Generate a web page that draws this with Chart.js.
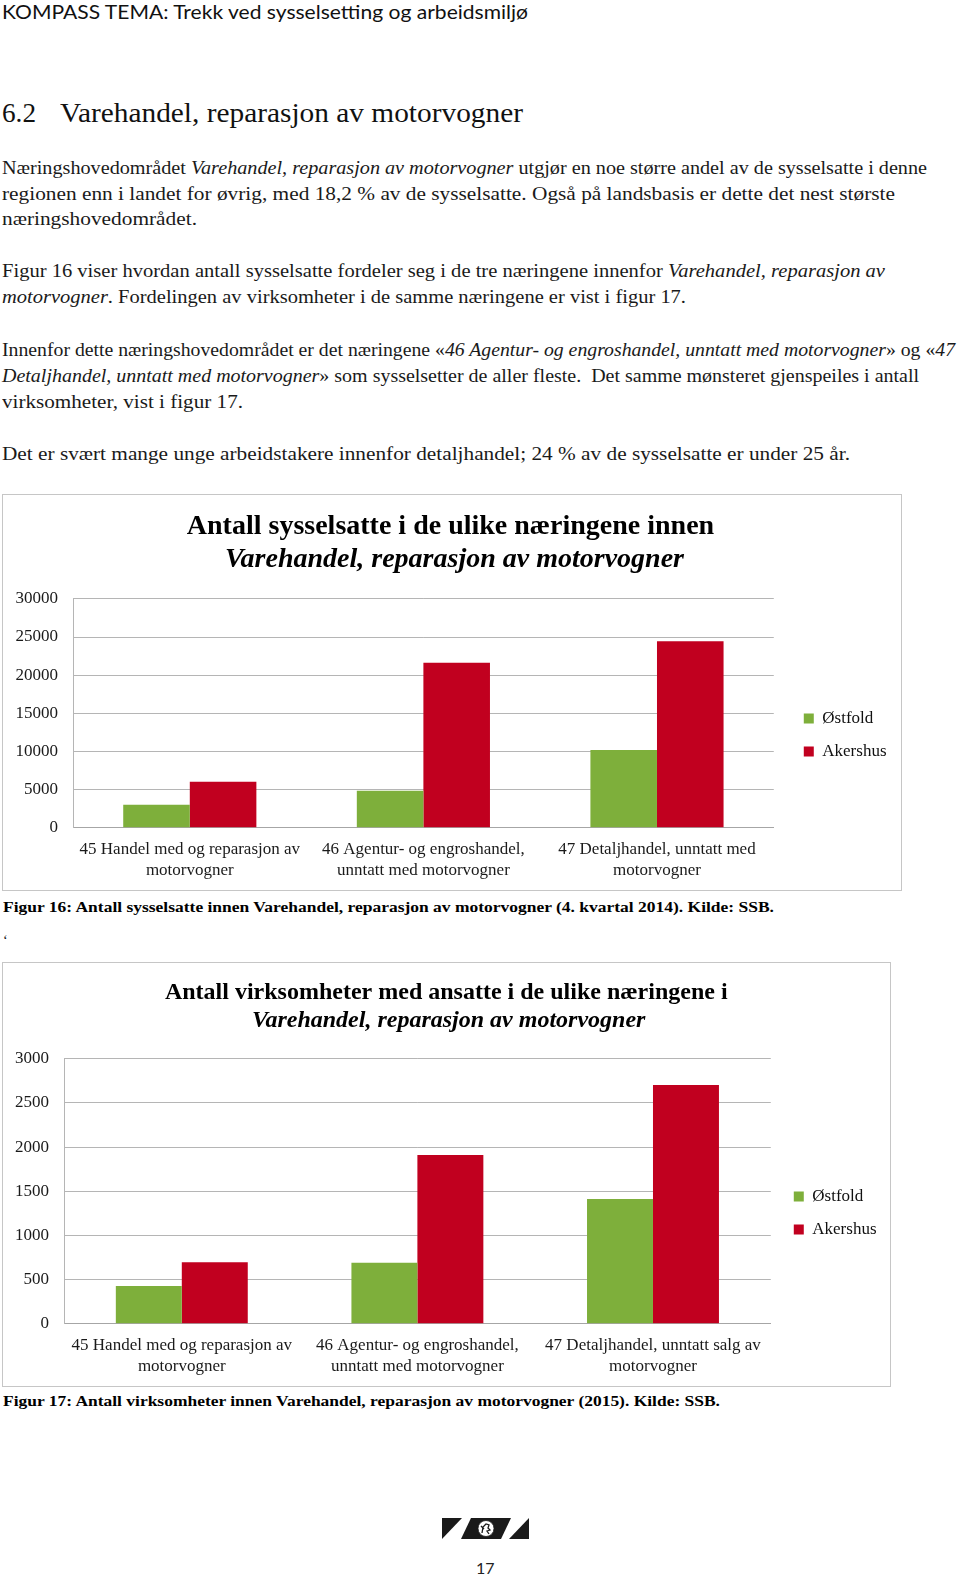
<!DOCTYPE html>
<html lang="no">
<head>
<meta charset="utf-8">
<script src="https://cdn.jsdelivr.net/npm/chart.js@4.4.1/dist/chart.umd.min.js"></script>
<style>
  html, body { margin:0; padding:0; background:#fff; }
  body { width:960px; height:1577px; position:relative; overflow:hidden; font-family:"Liberation Serif", serif; color:#111; }
  .ln { position:absolute; left:2px; white-space:nowrap; line-height:1.2; transform-origin:0 0; }
  .body { font-size:19px; color:#1a1a1a; }
  .sans { font-family:Lato, "Open Sans", sans-serif; }
  .cap { font-size:15.5px; font-weight:bold; color:#000; }
  .frame { position:absolute; border:1px solid #c6c6c6; box-sizing:border-box; }
  canvas { position:absolute; }
</style>
</head>
<body>
<script>
// ---------- DATA ----------
const categories1 = [["45 Handel med og reparasjon av","motorvogner"],["46 Agentur- og engroshandel,","unntatt med motorvogner"],["47 Detaljhandel, unntatt med","motorvogner"]];
const ostfold1 = [3040, 4850, 10200];
const akershus1 = [6050, 21620, 24450];
const yMax1 = 30000, yStep1 = 5000;

const categories2 = [["45 Handel med og reparasjon av","motorvogner"],["46 Agentur- og engroshandel,","unntatt med motorvogner"],["47 Detaljhandel, unntatt salg av","motorvogner"]];
const ostfold2 = [428, 690, 1414];
const akershus2 = [698, 1910, 2704];
const yMax2 = 3000, yStep2 = 500;

const seriesNames = ["Østfold", "Akershus"];
const title1 = ["Antall sysselsatte i de ulike næringene innen", "Varehandel, reparasjon av motorvogner"];
const title2 = ["Antall virksomheter med ansatte i de ulike næringene i", "Varehandel, reparasjon av motorvogner"];
</script>

<div class="ln sans" data-w="526" style="top:1px;font-size:19px;color:#111;">KOMPASS TEMA: Trekk ved sysselsetting og arbeidsmiljø</div>

<div class="ln" data-w="34" style="top:97px;font-size:27px;">6.2</div>
<div class="ln" data-w="463" style="left:60px;top:97px;font-size:27px;">Varehandel, reparasjon av motorvogner</div>

<div class="ln body" data-w="925" style="top:157px;">Næringshovedområdet <i>Varehandel, reparasjon av motorvogner</i> utgjør en noe større andel av de sysselsatte i denne</div>
<div class="ln body" data-w="893" style="top:183px;">regionen enn i landet for øvrig, med 18,2 % av de sysselsatte. Også på landsbasis er dette det nest største</div>
<div class="ln body" data-w="195" style="top:208px;">næringshovedområdet.</div>

<div class="ln body" data-w="883" style="top:260px;">Figur 16 viser hvordan antall sysselsatte fordeler seg i de tre næringene innenfor <i>Varehandel, reparasjon av</i></div>
<div class="ln body" data-w="684" style="top:286px;"><i>motorvogner</i>. Fordelingen av virksomheter i de samme næringene er vist i figur 17.</div>

<div class="ln body" data-w="953" style="top:339px;">Innenfor dette næringshovedområdet er det næringene «<i>46 Agentur- og engroshandel, unntatt med motorvogner</i>» og «<i>47</i></div>
<div class="ln body" data-w="917" style="top:365px;"><i>Detaljhandel, unntatt med motorvogner</i>» som sysselsetter de aller fleste.&nbsp; Det samme mønsteret gjenspeiles i antall</div>
<div class="ln body" data-w="241" style="top:391px;">virksomheter, vist i figur 17.</div>

<div class="ln body" data-w="848" style="top:443px;">Det er svært mange unge arbeidstakere innenfor detaljhandel; 24 % av de sysselsatte er under 25 år.</div>

<div class="frame" style="left:2px;top:494px;width:900px;height:397px;"></div>
<canvas id="c1" width="898" height="395" style="left:3px;top:495px;"></canvas>

<div class="ln cap" data-w="771" style="top:898px;left:3px;">Figur 16: Antall sysselsatte innen Varehandel, reparasjon av motorvogner (4. kvartal 2014). Kilde: SSB.</div>
<div class="ln" style="top:933px;left:3px;font-size:14px;">‘</div>

<div class="frame" style="left:2px;top:962px;width:889px;height:425px;"></div>
<canvas id="c2" width="887" height="423" style="left:3px;top:963px;"></canvas>

<div class="ln cap" data-w="717" style="top:1392px;left:3px;">Figur 17: Antall virksomheter innen Varehandel, reparasjon av motorvogner (2015). Kilde: SSB.</div>

<svg style="position:absolute;left:440px;top:1515px;" width="92" height="28" viewBox="0 0 92 28">
  <polygon points="2,3 22,3 2,24" fill="#1a1a1a"/>
  <polygon points="31,3 71,3 61,24 21,24" fill="#1a1a1a"/>
  <polygon points="89,3 89,24 69,24" fill="#1a1a1a"/>
  <circle cx="46" cy="13.5" r="8" fill="#fff" stroke="#1a1a1a" stroke-width="0.8"/>
  <path d="M42,18 L43,12 L46,9 L49,10 L48,13 L50,15 L47,16 L49,19 M44,14 L41,11" stroke="#1a1a1a" stroke-width="1.3" fill="none"/>
</svg>
<div class="ln sans" style="left:476px;top:1558px;font-size:16px;color:#222;">17</div>

<script>
// fit text lines to measured widths
document.querySelectorAll('.ln[data-w]').forEach(el => {
  const w = el.getBoundingClientRect().width;
  const t = parseFloat(el.dataset.w);
  if (w > 0) el.style.transform = 'scaleX(' + (t / w) + ')';
});

const GREEN = '#7eaf3b', RED = '#c1001f';
const FONT = '"Liberation Serif", serif';

// nudges legend and title blocks after layout
const boxShift = {
  id: 'boxShift',
  afterLayout(chart, args, opts) {
    const mv = (b, dx, dy) => { b.left += dx; b.right += dx; b.top += dy; b.bottom += dy; };
    if (chart.legend) mv(chart.legend, opts.ldx, opts.ldy);
    chart.boxes.forEach(b => {
      if (b === chart.legend || !b.options || b.options.ticks || typeof b.options.text === 'undefined') return;
      if (b === chart.titleBlock) mv(b, opts.tdx, 0); else mv(b, opts.sdx, 0);
    });
  }
};

function makeChart(id, cats, a, b, titles, yMax, yStep, cfg) {
  return new Chart(document.getElementById(id), {
    type: 'bar',
    data: {
      labels: cats,
      datasets: [
        { label: seriesNames[0], data: a, backgroundColor: GREEN, borderWidth: 0, categoryPercentage: cfg.cat, barPercentage: 1.0 },
        { label: seriesNames[1], data: b, backgroundColor: RED, borderWidth: 0, categoryPercentage: cfg.cat, barPercentage: 1.0 }
      ]
    },
    plugins: [boxShift],
    options: {
      responsive: false,
      devicePixelRatio: 1,
      animation: false,
      layout: { padding: { left: cfg.padL, right: cfg.padR, top: 0, bottom: cfg.padB } },
      plugins: {
        boxShift: { ldx: cfg.dx, ldy: cfg.dy, tdx: cfg.tdx, sdx: cfg.sdx },
        tooltip: { enabled: false },
        title: { display: true, text: titles[0], color: '#000', font: { family: FONT, size: cfg.tsize, weight: 'bold', lineHeight: cfg.tlh }, padding: { top: cfg.tTop, bottom: 1 } },
        subtitle: { display: true, text: titles[1], color: '#000', font: { family: FONT, size: cfg.tsize, weight: 'bold', style: 'italic', lineHeight: cfg.tlh }, padding: { top: 0, bottom: cfg.sBot } },
        legend: {
          position: 'right',
          labels: { boxWidth: 10, boxHeight: 10, padding: 16, color: '#111', font: { family: FONT, size: 17 } }
        }
      },
      scales: {
        x: {
          grid: { display: false, drawTicks: false },
          border: { display: true, color: '#a6a6a6', width: 1 },
          ticks: { color: '#1a1a1a', font: { family: FONT, size: 17, lineHeight: 1.24 }, padding: 11, maxRotation: 0, autoSkip: false },
          afterFit(scale) { scale.paddingLeft = 0; scale.paddingRight = 0; }
        },
        y: {
          min: 0, max: yMax,
          grid: { color: '#b5b5b5', lineWidth: 1, drawTicks: false },
          border: { display: true, color: '#b5b5b5', width: 1 },
          ticks: { stepSize: yStep, color: '#1a1a1a', font: { family: FONT, size: 17 }, padding: 15, callback: (v) => String(v) }
        }
      }
    }
  });
}

makeChart('c1', categories1, ostfold1, akershus1, title1, yMax1, yStep1,
  { cat: 0.57, padL: -2.5, padR: 18.5, padB: -2, tsize: 28, tlh: 1.14, tTop: 15.5, sBot: 23.5, dx: 14, dy: 41.5, tdx: 9, sdx: 13 });
makeChart('c2', categories2, ostfold2, akershus2, title2, yMax2, yStep2,
  { cat: 0.56, padL: -3, padR: 10.5, padB: -2, tsize: 24, tlh: 1.12, tTop: 16.5, sBot: 24.5, dx: 7, dy: 37.5, tdx: 6.5, sdx: 9 });
</script>
</body>
</html>
